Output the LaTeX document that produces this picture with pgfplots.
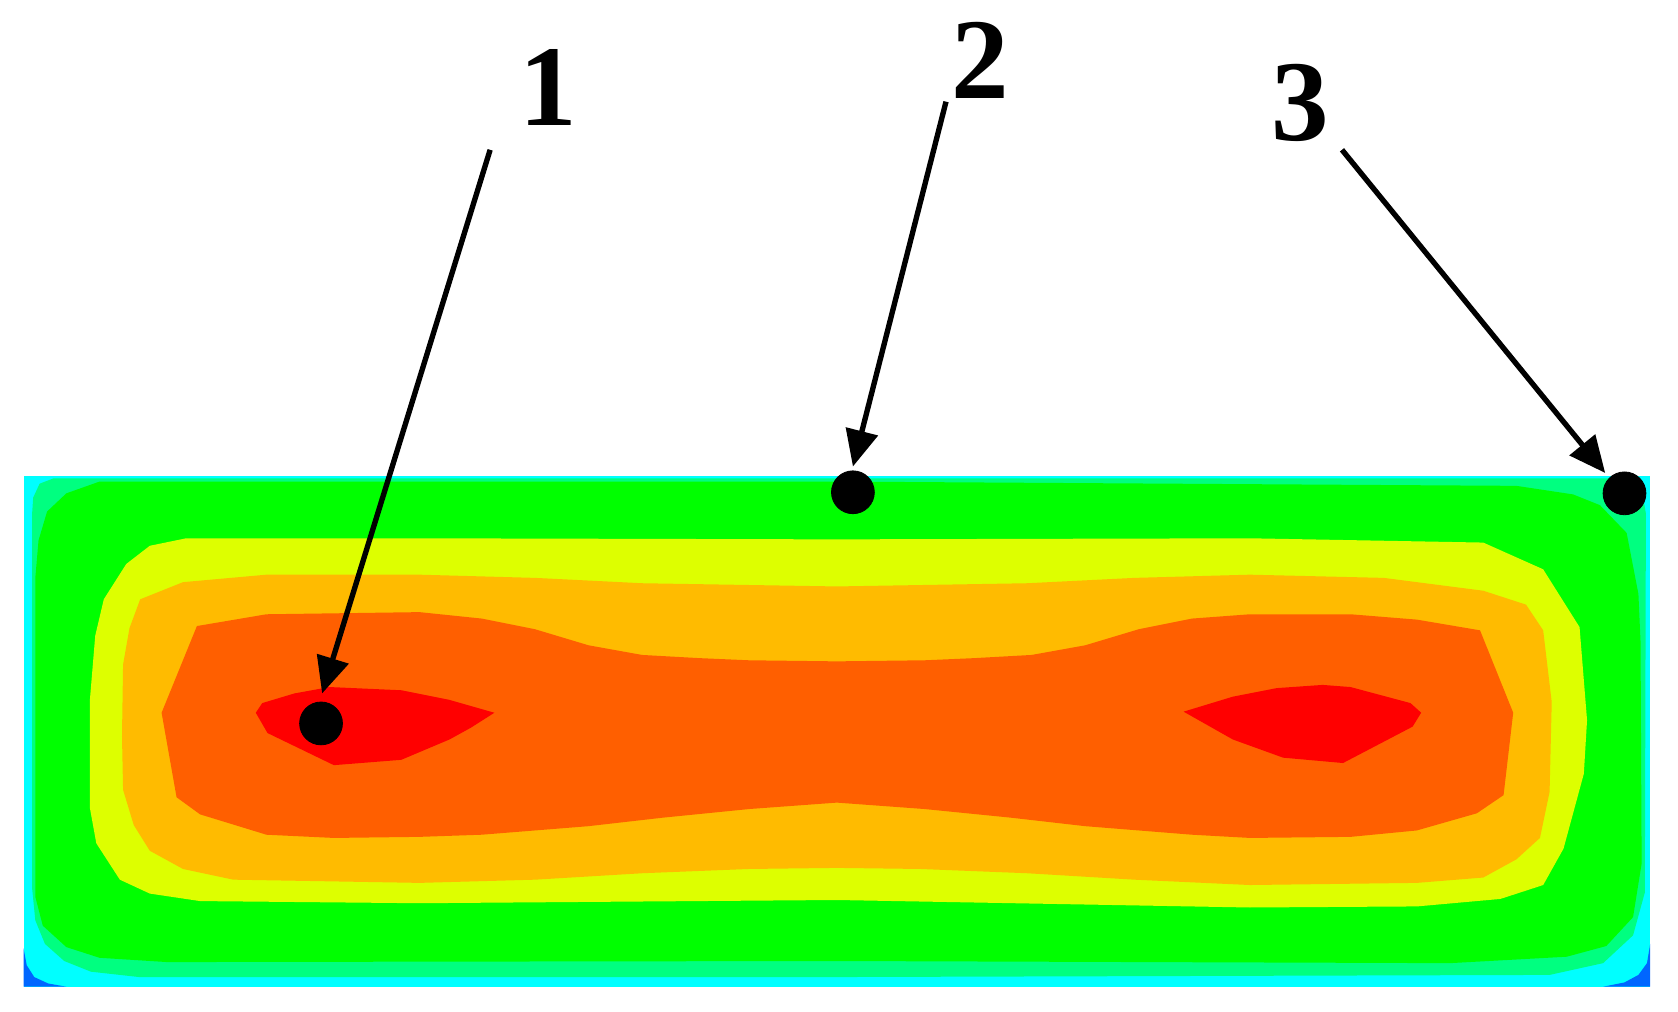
\documentclass[border=0pt]{standalone}
\usepackage{fontspec}
\setmainfont{Liberation Serif}
\usepackage{pgfplots}
\pgfplotsset{compat=1.18}
\usetikzlibrary{arrows.meta}
\definecolor{cCyan}{HTML}{00FFFF}
\definecolor{cSpring}{HTML}{00FF80}
\definecolor{cGreen}{HTML}{00FF00}
\definecolor{cYellow}{HTML}{DDFF00}
\definecolor{cOrange}{HTML}{FFBB00}
\definecolor{cDark}{HTML}{FF5F00}
\definecolor{cRed}{HTML}{FF0000}
\definecolor{cBlue}{HTML}{0066FF}
\begin{document}
\begin{tikzpicture}
\begin{axis}[
  scale only axis, width=784bp, height=472.5bp,
  xmin=0, xmax=1568, ymin=0, ymax=945, y dir=reverse,
  hide axis, clip=false]
% background
\addplot[fill=white, draw=none] coordinates {(0,0)(1568,0)(1568,945)(0,945)};
% cyan
\addplot[fill=cCyan, draw=none] coordinates {(22,445)(1542,445)(1542,922)(22,922)};
% blue corners
\addplot[fill=cBlue, draw=none] coordinates {(22,886)(25,902)(32,913)(45,919)(62,922)(22,922)};
\addplot[fill=cBlue, draw=none] coordinates {(1542,882)(1539,900)(1531,911)(1518,918)(1498,922)(1542,922)};
% spring green
\addplot[fill=cSpring, draw=none] coordinates {(50,447)(37,452)(31,465)(30,480)(30,830)(33,860)(42,882)(60,898)(85,908)(130,913)(782,913)(1448,911)(1498,900)(1526,874)(1537,834)(1538,480)(1535,462)(1528,450)(1510,447)};
% green
\addplot[fill=cGreen, draw=none] coordinates {(93,450)(62,461)(44,478)(36,505)(33,540)(33,838)(40,865)(62,885)(93,895)(156,899)(782,898)(1355,900)(1464,894)(1501,884)(1526,857)(1534,807)(1533,600)(1531,555)(1520,498)(1495,472)(1470,462)(1417,454)(782,450)};
% yellow
\addplot[fill=cYellow, draw=none] coordinates {(174,503)(140,510)(118,527)(97,560)(89,594)(84,654)(84,755)(90,788)(112,822)(140,835)(187,842)(392,844)(782,841)(1168,848)(1324,847)(1402,840)(1442,827)(1461,793)(1480,723)(1483,673)(1476,586)(1442,532)(1386,507)(1168,503)(782,504)(392,503)};
% orange
\addplot[fill=cOrange, draw=none] coordinates {(249,537)(171,544)(131,560)(121,587)(115,621)(114,688)(115,738)(125,771)(140,795)(171,812)(218,822)(392,825)(500,822)(600,816)(700,812)(782,811)(860,812)(960,816)(1060,822)(1168,827)(1324,825)(1386,820)(1417,803)(1439,783)(1448,740)(1450,656)(1442,589)(1426,565)(1386,552)(1293,540)(1168,537)(1060,540)(960,545)(782,548)(600,545)(500,540)(392,537)};
% dark orange
\addplot[fill=cDark, draw=none] coordinates {(392,572)(249,574)(184,585)(151,666)(165,745)(187,761)(249,780)(312,783)(392,782)(450,780)(550,772)(620,764)(700,756)(782,750)(864,756)(944,764)(1014,772)(1114,780)(1168,783)(1262,782)(1324,776)(1380,760)(1405,743)(1414,666)(1383,589)(1324,579)(1262,574)(1168,574)(1114,578)(1064,588)(1014,603)(964,612)(910,615)(864,617)(782,618)(700,617)(654,615)(600,612)(550,603)(500,588)(450,578)};
% red spots
\addplot[fill=cRed, draw=none] coordinates {(239,666)(245,657)(275,648)(308,642)(375,645)(420,654)(462,666)(440,680)(420,691)(375,710)(312,715)(250,685)};
\addplot[fill=cRed, draw=none] coordinates {(1106,665)(1152,651)(1193,643)(1236,640)(1262,642)(1318,657)(1328,666)(1320,679)(1255,713)(1199,708)(1152,691)};
% arrows
\addplot[black, line width=2.5bp, -{Triangle[length=17bp,width=15bp]}] coordinates {(458,140)(301,648)};
\addplot[black, line width=2.5bp, -{Triangle[length=17bp,width=15bp]}] coordinates {(884,95)(797,436)};
\addplot[black, line width=2.5bp, -{Triangle[length=17bp,width=15bp]}] coordinates {(1254,140)(1500,442)};
% dots
\addplot[only marks, mark=*, mark size=10bp, mark options={fill=black, draw=black}] coordinates {(300,676)(797,460)(1518,461)};
% labels
\node[anchor=base, inner sep=0pt, font=\bfseries\fontsize{54}{60}\selectfont] at (axis cs:512,117) {1};
\node[anchor=base, inner sep=0pt, font=\bfseries\fontsize{54}{60}\selectfont] at (axis cs:916,92) {2};
\node[anchor=base, inner sep=0pt, font=\bfseries\fontsize{54}{60}\selectfont] at (axis cs:1215,131) {3};
\end{axis}
\end{tikzpicture}
\end{document}
